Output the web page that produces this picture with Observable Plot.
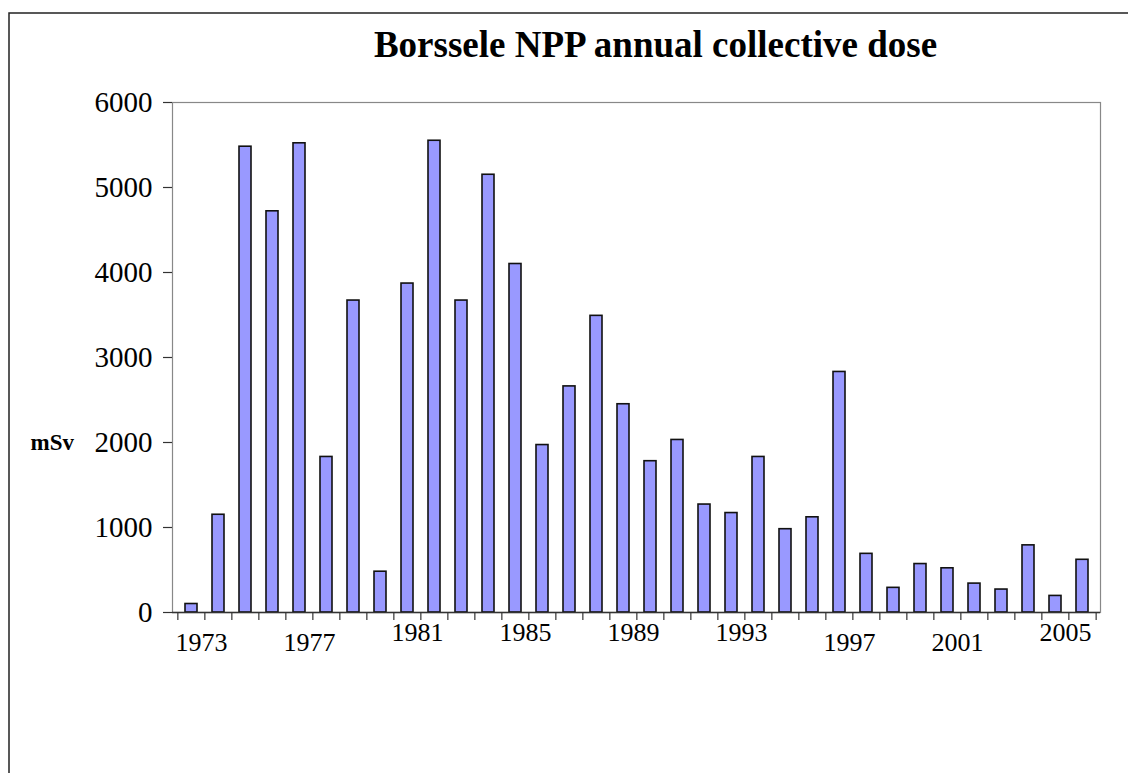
<!DOCTYPE html>
<html>
<head>
<meta charset="utf-8">
<script src="https://cdn.jsdelivr.net/npm/d3@7"></script>
<script src="https://cdn.jsdelivr.net/npm/@observablehq/plot@0.6"></script>
<style>
  html, body { margin: 0; padding: 0; background: #fff; }
  #chart { position: relative; width: 1128px; height: 773px; overflow: hidden; }
</style>
</head>
<body>
<div id="chart"></div>
<script>
// Data
const years = d3.range(1973, 2007); // 1973 … 2006
const doses = [100, 1150, 5480, 4720, 5520, 1830, 3670, 480, 3870, 5550,
               3670, 5150, 4100, 1970, 2660, 3490, 2450, 1780, 2030, 1270,
               1170, 1830, 980, 1120, 2830, 690, 290, 570, 520, 340,
               270, 790, 195, 620];
const xTickLabels = [1973, 1977, 1981, 1985, 1989, 1993, 1997, 2001, 2005];
const yTicks = [0, 1000, 2000, 3000, 4000, 5000, 6000];
const title = "Borssele NPP annual collective dose";
const yLabel = "mSv";

const data = years.map((y, i) => ({year: y, dose: doses[i]}));

const W = 1128, H = 773;
const mL = 172, mR = 28, mT = 102, mB = 161;
const step = (W - mL - mR) / years.length;
const lowLabels = new Set([1973, 1977, 1997, 2001]);
const serif = "'Liberation Serif', 'Times New Roman', serif";

const chart = Plot.plot({
  width: W,
  height: H,
  marginLeft: mL,
  marginRight: mR,
  marginTop: mT,
  marginBottom: mB,
  style: {fontFamily: serif, background: "#fff", color: "#000", overflow: "visible"},
  x: {type: "band", domain: years, paddingInner: 0.56, paddingOuter: 0.28, axis: null},
  y: {domain: [0, 6000], axis: null},
  marks: [
    // outer chart border (left and top visible)
    Plot.frame({stroke: "#222", strokeWidth: 1.5, insetLeft: 8.5 - mL, insetTop: 12.5 - mT, insetRight: -200, insetBottom: -200, clip: false}),
    // plot area frame (grey top/right)
    Plot.frame({stroke: "#888", strokeWidth: 1.2}),
    // bars
    Plot.barY(data, {x: "year", y: "dose", fill: "#9999FF", stroke: "#111", strokeWidth: 1.6}),
    // y axis line + ticks + labels
    Plot.ruleX([0], {frameAnchor: "left", stroke: "#333", strokeWidth: 1.5}),
    Plot.axisY({ticks: yTicks, label: null, tickSize: 9, tickPadding: 11, fontSize: 29, tickFormat: d => String(d), stroke: "#333", strokeWidth: 1.2}),
    // x axis line
    Plot.ruleY([0], {stroke: "#333", strokeWidth: 1.5}),
    // x category boundary ticks
    Plot.ruleX(years, {x: d => d, dx: -step / 2, y1: 0, y2: 0, insetBottom: -8, stroke: "#333", strokeWidth: 1.2}),
    Plot.ruleX(years.slice(-1), {x: d => d, dx: step / 2, y1: 0, y2: 0, insetBottom: -8, stroke: "#333", strokeWidth: 1.2}),
    // x tick labels (staggered as in the reference)
    Plot.text(xTickLabels.filter(d => lowLabels.has(d)), {x: d => d, y: 0, text: d => String(d), dx: 10, dy: 30, fontSize: 26, fill: "#000"}),
    Plot.text(xTickLabels.filter(d => !lowLabels.has(d)), {x: d => d, y: 0, text: d => String(d), dx: 10, dy: 20.5, fontSize: 26, fill: "#000"}),
    // y label
    Plot.text([yLabel], {frameAnchor: "left", y: 2000, text: d => d, dx: -142, dy: 0, textAnchor: "start", fontSize: 23, fontWeight: "bold", fill: "#000"}),
    // title
    Plot.text([title], {frameAnchor: "top", lineAnchor: "middle", text: d => d, dx: 19, dy: -57, fontSize: 37, fontWeight: "bold", fill: "#000"})
  ]
});

document.getElementById("chart").appendChild(chart);
</script>
</body>
</html>
